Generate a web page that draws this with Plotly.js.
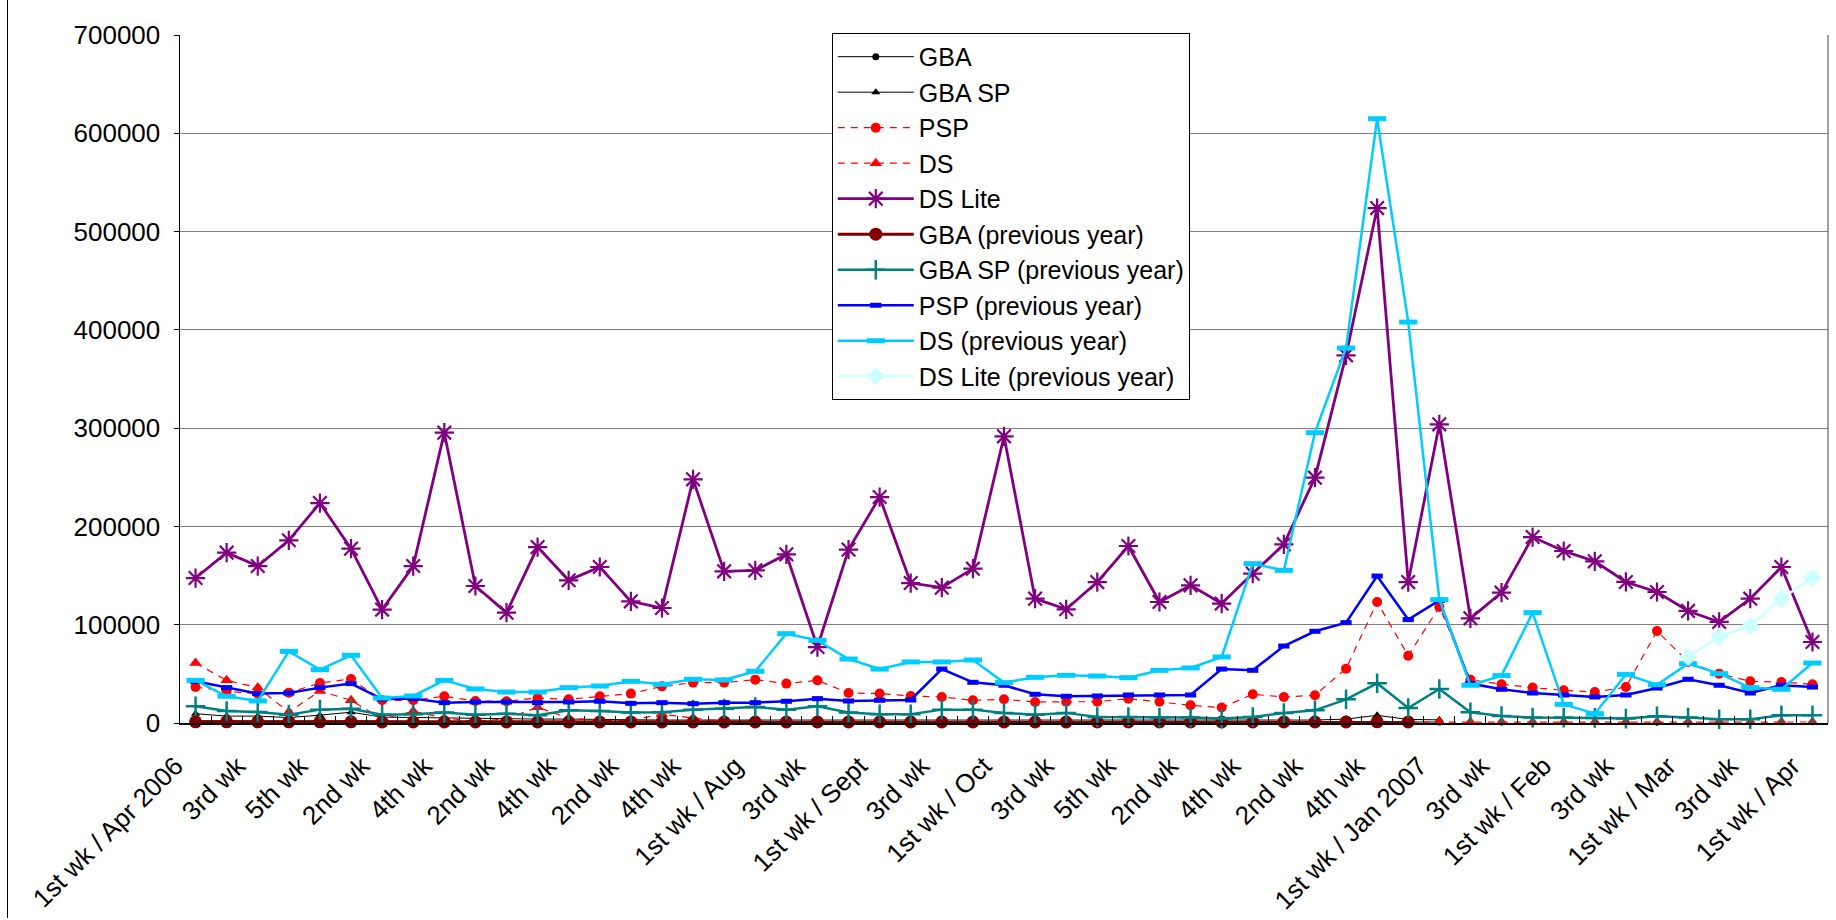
<!DOCTYPE html>
<html>
<head>
<meta charset="utf-8">
<script src="https://cdn.plot.ly/plotly-3.0.1.min.js"></script>
<style>
  html, body { margin: 0; padding: 0; background: #fff; }
  #chart { width: 1836px; height: 920px; position: absolute; left: 0; top: 0; }
  #frame { position: absolute; left: 7px; top: 0; width: 1829px; height: 918px; border-left: 1.5px solid #000; pointer-events: none; }
</style>
</head>
<body>
<div id="chart"></div>
<div id="frame"></div>
<script>
// Weekly categories, 1st wk Apr 2006 .. 1st wk Apr 2007
const categories = [
  "1st wk / Apr 2006","2nd wk / Apr 2006","3rd wk / Apr 2006","4th wk / Apr 2006","5th wk / Apr 2006",
  "1st wk / May","2nd wk / May","3rd wk / May","4th wk / May",
  "1st wk / Jun","2nd wk / Jun","3rd wk / Jun","4th wk / Jun",
  "1st wk / Jul","2nd wk / Jul","3rd wk / Jul","4th wk / Jul","5th wk / Jul",
  "1st wk / Aug","2nd wk / Aug","3rd wk / Aug","4th wk / Aug",
  "1st wk / Sept","2nd wk / Sept","3rd wk / Sept","4th wk / Sept",
  "1st wk / Oct","2nd wk / Oct","3rd wk / Oct","4th wk / Oct","5th wk / Oct",
  "1st wk / Nov","2nd wk / Nov","3rd wk / Nov","4th wk / Nov",
  "1st wk / Dec","2nd wk / Dec","3rd wk / Dec","4th wk / Dec","5th wk / Dec",
  "1st wk / Jan 2007","2nd wk / Jan 2007","3rd wk / Jan 2007","4th wk / Jan 2007",
  "1st wk / Feb","2nd wk / Feb","3rd wk / Feb","4th wk / Feb",
  "1st wk / Mar","2nd wk / Mar","3rd wk / Mar","4th wk / Mar",
  "1st wk / Apr"
];

// Tick labels shown (every second week)
const tickLabels = [
  "1st wk / Apr 2006","3rd wk","5th wk","2nd wk","4th wk","2nd wk","4th wk","2nd wk","4th wk",
  "1st wk / Aug","3rd wk","1st wk / Sept","3rd wk","1st wk / Oct","3rd wk","5th wk","2nd wk",
  "4th wk","2nd wk","4th wk","1st wk / Jan 2007","3rd wk","1st wk / Feb","3rd wk","1st wk / Mar",
  "3rd wk","1st wk / Apr"
];

const gba = [2200,2000,2000,1800,2000,2400,1600,1500,1500,1400,1400,1300,1300,1200,1200,1200,1200,1100,1100,1100,1100,1000,1000,1000,1000,1000,1000,900,900,900,900,900,900,900,900,900,1000,1200,1500,1000,1000,
  null,null,null,null,null,null,null,null,null,null,null,null];

const gbaSp = [9500,7000,7000,5500,8000,11000,6000,5500,5000,4500,4500,4000,4000,3500,3500,3000,3000,3000,3000,3000,2800,2800,2800,2600,2600,2600,2500,2500,2500,2400,2400,2400,2300,2300,2300,2500,3000,4000,7800,3600,3200,
  null,null,null,null,null,null,null,null,null,null,null,null];

const psp = [36600,32200,29900,30900,40700,44800,23100,23100,27200,22400,22100,25400,24100,27200,
  29900,37300,41100,41100,44100,40100,43400,30500,29900,27500,26500,23100,24100,21400,
  21700,21700,24800,21700,18000,15700,29200,26500,28200,55300,123100,68500,118000,44100,
  39400,36000,33300,31500,36600,93600,62100,50200,42400,41700,39400];

const ds = [61000,43400,36000,11200,32600,23100,4000,11900,5000,1700,4300,16000,5000,2500,2700,9000,5000,1700,
  800,800,800,800,800,800,800,800,800,800,800,800,800,800,800,800,800,800,800,800,800,800,
  1000,1000,1000,1000,1000,1000,1000,1000,1000,1000,1000,1000,1000];

const dsLite = [147500,173300,159700,185900,223800,177400,115400,159700,295400,139400,112300,179000,145200,158700,
  123800,117000,247900,154300,155300,171600,77300,176400,229900,142400,137700,157000,291700,126500,
  115700,143400,180100,123100,140100,121500,152000,181800,249600,374100,523900,143400,303900,106500,
  132600,189200,175000,164500,143500,133300,114000,102800,126500,158700,82400];

const gbaPrev = [1200,1200,1200,1200,1200,1200,1000,1000,1000,1000,1000,1000,1000,1000,1000,1000,1000,1000,1000,1000,
  1000,1000,1000,1000,1000,1000,1000,1000,1000,1000,1000,1000,1000,1000,1000,1000,1000,1000,1200,1000,
  null,null,null,null,null,null,null,null,null,null,null,null,null];

const gbaSpPrev = [17000,12200,11200,8500,13600,14600,8500,8800,10600,8500,9500,7800,12900,12200,
  10600,10900,13600,14600,16300,13600,17000,10600,8800,8800,13600,13600,10300,8500,
  10300,6100,6100,5500,5500,4500,6100,10200,12900,24100,40400,15200,34600,11000,
  7100,5500,5500,5200,4500,6800,5500,3800,3800,7800,7800];

const pspPrev = [42400,36000,29900,30500,36000,40100,24400,24800,20700,21400,21400,20700,21400,22100,
  20000,20700,19700,20700,20700,22100,24800,22400,23100,23400,54900,41400,38400,29200,
  27200,27500,28500,28500,28500,54900,53600,78300,93300,102100,149500,105200,124800,40100,
  34300,30500,28500,26500,28500,35600,44500,38400,30500,38400,36600];

const dsPrev = [43400,27200,22400,72900,54300,68900,25400,27500,43400,34600,31500,31500,36000,37600,
  42400,39400,44500,43800,52600,90900,84100,65100,54900,62100,62100,64100,41100,46500,
  48500,47800,46100,53600,56000,67200,162100,155300,295400,381500,614800,407900,125500,38400,
  48200,112300,19000,9500,49500,39000,60400,50200,36000,34300,61000];

const dsLitePrev = [null,null,null,null,null,null,null,null,null,null,null,null,null,null,null,null,
  null,null,null,null,null,null,null,null,null,null,null,null,null,null,null,null,
  null,null,null,null,null,null,null,null,null,null,null,null,null,null,null,null,
  67200,88200,98700,126500,147900];

const xIdx = categories.map((c, i) => i);
const tickIdx = tickLabels.map((t, k) => 2 * k);

function tr(name, y, line, marker) {
  return { type: 'scatter', mode: 'lines+markers', name: name, x: xIdx, y: y, cliponaxis: false,
           text: categories, hoverinfo: 'name+text+y', line: line, marker: marker, connectgaps: false };
}

const data = [
  tr('GBA', gba, {color: '#000000', width: 1}, {symbol: 'circle', size: 7, color: '#000000'}),
  tr('GBA SP', gbaSp, {color: '#000000', width: 1}, {symbol: 'triangle-up', size: 8, color: '#000000'}),
  tr('PSP', psp, {color: '#FF0000', width: 1.2, dash: '7px,6px'}, {symbol: 'circle', size: 10, color: '#FF0000'}),
  tr('DS', ds, {color: '#FF0000', width: 1.2, dash: '7px,6px'}, {symbol: 'triangle-up', size: 11, color: '#FF0000'}),
  tr('DS Lite', dsLite, {color: '#800080', width: 2.8}, {symbol: 'asterisk-open', size: 16, color: '#800080', line: {color: '#800080', width: 2.2}}),
  tr('GBA (previous year)', gbaPrev, {color: '#800000', width: 3}, {symbol: 'circle', size: 13, color: '#800000'}),
  tr('GBA SP (previous year)', gbaSpPrev, {color: '#008080', width: 2.5}, {symbol: 'cross-thin-open', size: 14, color: '#008080', line: {color: '#008080', width: 2.5}}),
  tr('PSP (previous year)', pspPrev, {color: '#0000FF', width: 2.5}, {symbol: 'line-ew-open', size: 8, color: '#0000FF', line: {color: '#0000FF', width: 5}}),
  tr('DS (previous year)', dsPrev, {color: '#00CCFF', width: 2.5}, {symbol: 'line-ew-open', size: 13, color: '#00CCFF', line: {color: '#00CCFF', width: 5}}),
  tr('DS Lite (previous year)', dsLitePrev, {color: '#CCFFFF', width: 2.5}, {symbol: 'diamond', size: 14, color: '#CCFFFF'})
];

const font = {family: 'Liberation Sans, Arial, sans-serif', size: 26, color: '#000'};

const layout = {
  width: 1836, height: 920,
  margin: {l: 180, r: 8, t: 35, b: 197, autoexpand: false},
  paper_bgcolor: '#ffffff', plot_bgcolor: '#ffffff',
  font: font,
  showlegend: true,
  legend: {
    x: 0.3955, y: 1.003, xanchor: 'left', yanchor: 'top',
    bgcolor: '#ffffff', bordercolor: '#000000', borderwidth: 1,
    font: {family: 'Liberation Sans, Arial, sans-serif', size: 25, color: '#000'},
    itemwidth: 76, tracegroupgap: 0
  },
  xaxis: {
    type: 'linear', range: [-0.5, 52.5], fixedrange: true,
    tickmode: 'array', tickvals: tickIdx, ticktext: tickLabels, tickangle: -45,
    ticks: 'inside', ticklen: 7, tickcolor: 'rgba(0,0,0,0)',
    minor: {tickmode: 'linear', tick0: 0.5, dtick: 1, ticks: 'inside', ticklen: 7, tickcolor: '#000', tickwidth: 1, showgrid: false},
    ticklabelshift: -20, ticklabelstandoff: 16,
    showline: true, linecolor: '#000', linewidth: 1.5,
    showgrid: false, zeroline: false,
    tickfont: font
  },
  yaxis: {
    range: [0, 700000], dtick: 100000, tick0: 0, tickformat: 'd', fixedrange: true,
    ticks: 'outside', ticklen: 5, tickcolor: '#000', tickwidth: 1,
    showline: true, linecolor: '#000', linewidth: 1.5,
    showgrid: true, gridcolor: '#808080', gridwidth: 1,
    zeroline: false, ticklabelstandoff: 8,
    tickfont: font
  },
  shapes: [
    {type: 'line', xref: 'paper', yref: 'paper', x0: 1, x1: 1, y0: 0, y1: 1, line: {color: '#808080', width: 1.5}}
  ]
};

Plotly.newPlot('chart', data, layout, {displayModeBar: false, staticPlot: true});
</script>
</body>
</html>
